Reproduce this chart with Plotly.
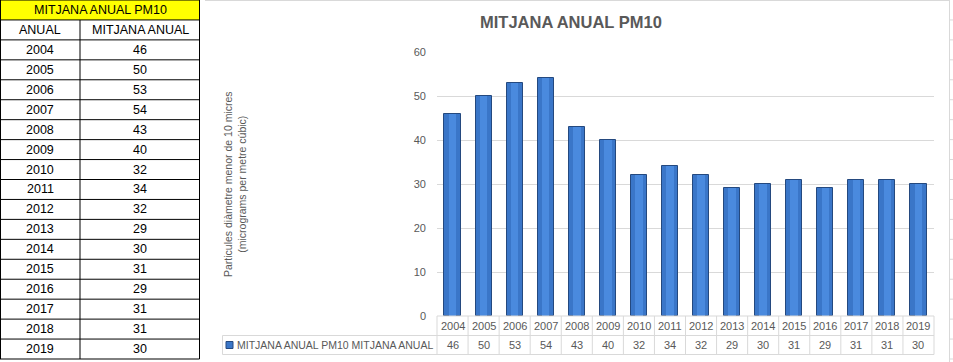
import plotly.graph_objects as go

# ---- data ----
years = ["2004", "2005", "2006", "2007", "2008", "2009", "2010", "2011",
         "2012", "2013", "2014", "2015", "2016", "2017", "2018", "2019"]
values = [46, 50, 53, 54, 43, 40, 32, 34, 32, 29, 30, 31, 29, 31, 31, 30]
table_title = "MITJANA ANUAL PM10"
col_headers = ["ANUAL", "MITJANA ANUAL"]
chart_title = "MITJANA ANUAL PM10"
y_title = "Particules diàmetre menor de 10 micres<br>(micrograms per metre cúbic)"
legend_label = "MITJANA ANUAL PM10 MITJANA ANUAL"
y_ticks = [0, 10, 20, 30, 40, 50, 60]

# ---- geometry (pixels) ----
W, H = 953, 362
L, R, T, B = 437, 19, 52, 46
PW, PH = W - L - R, H - T - B

FONT = "Liberation Sans, Arial"
GRAY = "#595959"
GRID = "#d9d9d9"


def px(x):
    return (x - L) / PW


def py(y):
    return (H - B - y) / PH


fig = go.Figure()
fig.add_trace(go.Bar(x=years, y=values, width=0.52,
                     marker=dict(color="#3a76c8", line=dict(color="#24497f", width=1)),
                     hoverinfo="x+y", showlegend=False))
fig.add_trace(go.Bar(x=years, y=values, width=0.24,
                     marker=dict(color="#4a8ade", line=dict(width=0)),
                     hoverinfo="skip", showlegend=False))

shapes = []
annots = []

# ---- left Excel table ----
row_h = 359 / 18
shapes.append(dict(type="rect", xref="paper", yref="paper",
                   x0=px(0), x1=px(199.5), y0=py(0), y1=py(row_h),
                   fillcolor="#ffff00", line=dict(width=0), layer="below"))
for i in range(19):
    yy = i * row_h if i < 18 else 359
    shapes.append(dict(type="line", xref="paper", yref="paper",
                       x0=px(0), x1=px(199.5), y0=py(yy), y1=py(yy),
                       line=dict(color="#000000", width=1)))
for xx, ytop in [(0.5, 0), (199.5, 0), (80, row_h)]:
    shapes.append(dict(type="line", xref="paper", yref="paper",
                       x0=px(xx), x1=px(xx), y0=py(ytop), y1=py(359),
                       line=dict(color="#000000", width=1)))

tfont = dict(family=FONT, size=12.5, color="#000000")
annots.append(dict(text=table_title, xref="paper", yref="paper", x=px(100), y=py(row_h / 2),
                   showarrow=False, font=tfont, xanchor="center", yanchor="middle"))
annots.append(dict(text=col_headers[0], xref="paper", yref="paper", x=px(40), y=py(1.5 * row_h),
                   showarrow=False, font=tfont, xanchor="center", yanchor="middle"))
annots.append(dict(text=col_headers[1], xref="paper", yref="paper", x=px(140), y=py(1.5 * row_h),
                   showarrow=False, font=tfont, xanchor="center", yanchor="middle"))
for i, (yr, v) in enumerate(zip(years, values)):
    yc = (i + 2.5) * row_h
    annots.append(dict(text=yr, xref="paper", yref="paper", x=px(40), y=py(yc),
                       showarrow=False, font=tfont, xanchor="center", yanchor="middle"))
    annots.append(dict(text=str(v), xref="paper", yref="paper", x=px(140), y=py(yc),
                       showarrow=False, font=tfont, xanchor="center", yanchor="middle"))

# ---- chart border / sheet edge ----
shapes.append(dict(type="line", xref="paper", yref="paper", x0=px(205), x1=px(950),
                   y0=py(0.5), y1=py(0.5), line=dict(color=GRID, width=1)))
shapes.append(dict(type="line", xref="paper", yref="paper", x0=px(949.5), x1=px(949.5),
                   y0=py(0), y1=py(362), line=dict(color=GRID, width=1)))
for k in range(1, 19):
    yy = k * row_h
    shapes.append(dict(type="line", xref="paper", yref="paper", x0=px(950), x1=px(953),
                       y0=py(yy), y1=py(yy), line=dict(color=GRID, width=1)))

# ---- chart data table ----
top, mid, bot = 316, 335.5, 354.5
shapes.append(dict(type="line", xref="paper", yref="paper", x0=px(L), x1=px(W - R),
                   y0=py(top), y1=py(top), line=dict(color=GRID, width=1)))
for yy in (mid, bot):
    shapes.append(dict(type="line", xref="paper", yref="paper", x0=px(222.5), x1=px(W - R),
                       y0=py(yy), y1=py(yy), line=dict(color=GRID, width=1)))
shapes.append(dict(type="line", xref="paper", yref="paper", x0=px(222.5), x1=px(222.5),
                   y0=py(mid), y1=py(bot), line=dict(color=GRID, width=1)))
for k in range(len(years) + 1):
    xx = L + k * PW / len(years)
    shapes.append(dict(type="line", xref="paper", yref="paper", x0=px(xx), x1=px(xx),
                       y0=py(top), y1=py(bot), line=dict(color=GRID, width=1)))
# legend key
shapes.append(dict(type="rect", xref="paper", yref="paper", x0=px(226), x1=px(233),
                   y0=py(341.5), y1=py(348.5), fillcolor="#3a76c8",
                   line=dict(color="#24497f", width=1)))

cfont = dict(family=FONT, size=11, color=GRAY)
for i, (yr, v) in enumerate(zip(years, values)):
    annots.append(dict(text=yr, xref="x", yref="paper", x=i, y=py((top + mid) / 2),
                       showarrow=False, font=cfont, xanchor="center", yanchor="middle"))
    annots.append(dict(text=str(v), xref="x", yref="paper", x=i, y=py((mid + bot) / 2),
                       showarrow=False, font=cfont, xanchor="center", yanchor="middle"))
annots.append(dict(text=legend_label, xref="paper", yref="paper", x=px(235), y=py((mid + bot) / 2),
                   showarrow=False, font=dict(family=FONT, size=10.5, color=GRAY),
                   xanchor="left", yanchor="middle"))

# ---- title & axis title ----
annots.append(dict(text="<b>" + chart_title + "</b>", xref="paper", yref="paper",
                   x=px(571), y=py(22), showarrow=False,
                   font=dict(family=FONT, size=16.5, color=GRAY), xanchor="center", yanchor="middle"))
annots.append(dict(text=y_title, xref="paper", yref="paper", x=px(235), y=py(184),
                   showarrow=False, textangle=-90,
                   font=dict(family=FONT, size=10.5, color=GRAY), xanchor="center", yanchor="middle"))

fig.update_layout(
    width=W, height=H,
    margin=dict(l=L, r=R, t=T, b=B, pad=0),
    paper_bgcolor="white", plot_bgcolor="white",
    barmode="overlay", bargap=0,
    shapes=shapes, annotations=annots,
    xaxis=dict(type="category", showticklabels=False, showgrid=False, zeroline=False,
               showline=False, ticks="", range=[-0.5, len(years) - 0.5]),
    yaxis=dict(range=[0, 60], tickvals=y_ticks, showgrid=True, gridcolor=GRID, gridwidth=1,
               zeroline=False, showline=False, ticks="",
               tickfont=dict(family=FONT, size=11, color=GRAY), ticklabelstandoff=10),
)

fig.write_html("out.html", config={"displayModeBar": False},
               post_script="document.body.style.margin='0';")
